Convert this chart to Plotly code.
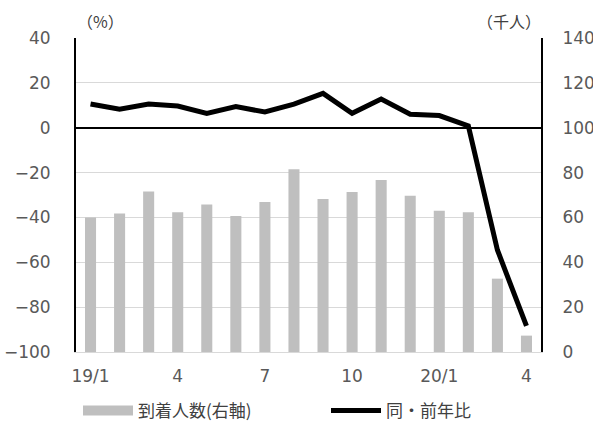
import plotly.graph_objects as go

months = ["19/1","19/2","19/3","19/4","19/5","19/6","19/7","19/8","19/9","19/10","19/11","19/12",
          "20/1","20/2","20/3","20/4"]
tick_vals = ["19/1","19/4","19/7","19/10","20/1","20/4"]
tick_text = ["19/1","4","7","10","20/1","4"]
arrivals = [60.0, 61.8, 71.6, 62.3, 65.8, 60.6, 66.9, 81.5, 68.2, 71.3, 76.7, 69.7, 63.0, 62.3, 32.7, 7.3]
yoy = [10.6, 8.2, 10.6, 9.7, 6.4, 9.4, 7.0, 10.5, 15.3, 6.4, 12.8, 6.0, 5.4, 0.8, -54.5, -88.4]

FONT = "DejaVu Sans, Noto Sans CJK JP"
JP_FONT = "Noto Sans CJK JP"
GRAY_TXT = "#595959"

# the page's body margin is removed below, so the figure fills the window and
# the plot area lands at x 76..541, y 38..352
W, H = 593, 425
X0, X1, Y0, Y1 = 76, 541, 38, 352
L, R, T, B = X0, W - X1, Y0, H - Y1
pw, ph = X1 - X0, Y1 - Y0


def px(x):
    return (x - X0) / pw


def py(y):
    return (Y1 - y) / ph


fig = go.Figure()
fig.add_trace(go.Bar(x=months, y=arrivals, name="到着人数(右軸)", marker_color="#BFBFBF",
                     marker_line_width=0, width=0.38, yaxis="y", showlegend=False,
                     legendgroup="arr"))
fig.add_trace(go.Scatter(x=months, y=yoy, name="同・前年比", mode="lines",
                         line=dict(color="black", width=5), yaxis="y2", legend="legend2"))
# legend key for the bars (wide grey swatch as in the original)
fig.add_trace(go.Scatter(x=[None], y=[None], name="到着人数(右軸)", mode="lines",
                         line=dict(color="#BFBFBF", width=10), yaxis="y",
                         legendgroup="arr", legend="legend"))

leg_common = dict(orientation="h", yanchor="middle", y=py(411), xanchor="left",
                  font=dict(family=JP_FONT, size=17, color="#404040"),
                  itemwidth=50, bgcolor="rgba(0,0,0,0)")

fig.update_layout(
    width=W, height=H,
    margin=dict(l=L, r=R, t=T, b=B, autoexpand=False),
    paper_bgcolor="white", plot_bgcolor="white",
    font=dict(family=FONT, size=17, color=GRAY_TXT),
    showlegend=True,
    legend=dict(x=px(78), **leg_common),
    legend2=dict(x=px(326), **leg_common),
    xaxis=dict(type="category", categoryorder="array", categoryarray=months,
               tickvals=tick_vals, ticktext=tick_text, showgrid=False,
               showline=True, linecolor="#D9D9D9", linewidth=1, ticks="",
               ticklabelstandoff=9, range=[-0.5, 15.5]),
    yaxis=dict(side="right", range=[0, 140], dtick=20, showgrid=True, gridcolor="#D9D9D9",
               gridwidth=1, showline=True, linecolor="black", linewidth=2, ticks="",
               zeroline=False, ticklabelstandoff=16),
    yaxis2=dict(side="left", overlaying="y", range=[-100, 40], dtick=20, showgrid=False,
                showline=True, linecolor="black", linewidth=2, ticks="",
                zeroline=True, zerolinecolor="black", zerolinewidth=2,
                ticklabelstandoff=20),
    annotations=[
        dict(text="（%）", x=px(100), y=py(21), xref="paper", yref="paper",
             xanchor="center", yanchor="middle",
             showarrow=False, font=dict(family=JP_FONT, size=16, color="#404040")),
        dict(text="（千人）", x=px(509), y=py(21), xref="paper", yref="paper",
             xanchor="center", yanchor="middle",
             showarrow=False, font=dict(family=JP_FONT, size=16, color="#404040")),
    ],
)
fig.write_html(
    "out.html",
    config={"displayModeBar": False},
    post_script="document.body.style.margin='0';"
                "document.documentElement.style.overflow='hidden';"
                "document.body.style.overflow='hidden';",
)
